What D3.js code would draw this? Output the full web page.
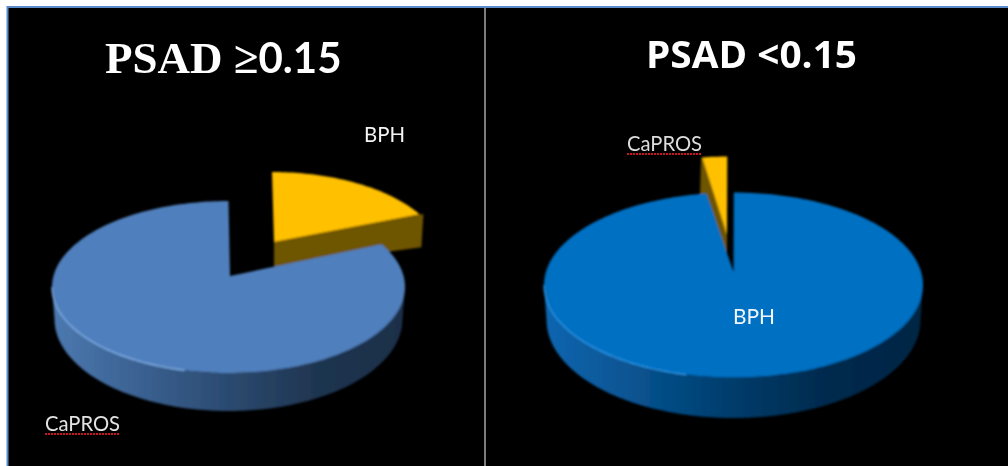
<!DOCTYPE html>
<html>
<head>
<meta charset="utf-8">
<script src="https://cdn.jsdelivr.net/npm/d3@7"></script>
<style>
html,body{margin:0;padding:0;background:#fff;overflow:hidden}
svg{display:block}
</style>
</head>
<body>
<svg id="c" width="1008" height="466"></svg>
<script>
// Data
const categoriesLeft = ["BPH", "CaPROS"];
const valuesLeft = [16.7, 83.3];
const categoriesRight = ["CaPROS", "BPH"];
const valuesRight = [2.3, 97.7];

const W = 1008, H = 466;
const svg = d3.select("#c");
const defs = svg.append("defs");
const blur = defs.append("filter").attr("id", "soft").attr("x", "-5%").attr("y", "-5%").attr("width", "110%").attr("height", "110%");
blur.append("feGaussianBlur").attr("stdDeviation", 0.85);
const textBlur = defs.append("filter").attr("id", "softText").attr("x", "-5%").attr("y", "-20%").attr("width", "110%").attr("height", "140%");
textBlur.append("feGaussianBlur").attr("stdDeviation", 0.7);

function sideGradient(id, x1, x2, stops) {
  const g = defs.append("linearGradient").attr("id", id).attr("gradientUnits", "userSpaceOnUse")
    .attr("x1", x1).attr("x2", x2).attr("y1", 0).attr("y2", 0);
  stops.forEach((c, i) => g.append("stop").attr("offset", i / (stops.length - 1)).attr("stop-color", c));
}

// panel
svg.append("rect").attr("x", 7.5).attr("y", 7).attr("width", W).attr("height", H)
  .attr("fill", "#000").attr("stroke", "#5b8bc9").attr("stroke-width", 2);
svg.append("line").attr("x1", 485).attr("x2", 485).attr("y1", 8).attr("y2", H)
  .attr("stroke", "#7c7c7c").attr("stroke-width", 2);

const line = d3.line().x(d => d[0]).y(d => d[1]);
const TAU = Math.PI * 2;

function ellipsePoints(e, a0, a1) {
  const n = Math.max(2, Math.ceil(Math.abs(a1 - a0) / 0.02));
  return d3.range(n + 1).map(i => {
    const a = a0 + (a1 - a0) * i / n;
    return [e.cx + e.rx * Math.sin(a), e.cy - e.ry * Math.cos(a)];
  });
}

function drawPie(cfg) {
  const pie = d3.pie().sort(null).startAngle(cfg.start).endAngle(cfg.start + TAU);
  const arcs = pie(cfg.values);
  const g = svg.append("g").attr("filter", "url(#soft)");
  const main = arcs[cfg.mainIndex], wedge = arcs[1 - cfg.mainIndex];

  // exploded wedge: radial side face, then top face
  const w = cfg.wedge;
  const edge = ellipsePoints(w, wedge[cfg.wedgeSide], wedge[cfg.wedgeSide])[0];
  const apex = [w.cx + w.apexDx, w.cy + w.apexDy];
  g.append("path").attr("fill", "#6e5400").attr("d", line([
    apex, edge, [edge[0] + w.lipDx, edge[1]], [edge[0] + w.edgeDx, edge[1] + w.depthOuter],
    [apex[0], apex[1] + w.depthInner]
  ]) + "Z");
  g.append("path").attr("fill", "#ffc000").attr("d",
    line([apex, ...ellipsePoints(w, wedge.startAngle, wedge.endAngle)]) + "Z");

  // main body: front wall then top face
  const t = cfg.top, b = cfg.bottom;
  g.append("path").attr("fill", `url(#${cfg.id})`).attr("d",
    line([...ellipsePoints(t, Math.PI / 2, Math.PI * 1.5), ...ellipsePoints(b, Math.PI * 1.5, Math.PI / 2)]) + "Z");
  g.append("path").attr("fill", cfg.topColor).attr("d",
    line([[t.cx + cfg.apexDx, t.cy + cfg.apexDy], ...ellipsePoints(t, main.startAngle, main.endAngle)]) + "Z");
  g.append("path").attr("fill", "none").attr("stroke", cfg.rim).attr("stroke-width", 1.2)
    .attr("d", line(ellipsePoints(t, Math.PI * 1.08, Math.PI * 1.5)));
}

const bodyLeft = { cx: 228.5, cy: 287, rx: 176.5, ry: 86 };
sideGradient("sideL", 52, 405, ["#4c79b0", "#3a6191", "#2b4a70", "#1f3550", "#1c2f49"]);
drawPie({
  id: "sideL", values: valuesLeft, start: 0, mainIndex: 1, wedgeSide: "endAngle",
  top: bodyLeft, bottom: { cx: 228.5, cy: 319, rx: 174, ry: 92 },
  apexDx: 1.5, apexDy: -11, topColor: "#4f7fbc", rim: "#86b5ee",
  wedge: { cx: 272, cy: 256, rx: 170, ry: 84, apexDx: 2, apexDy: -14, depthInner: 25, depthOuter: 33, edgeDx: 2, lipDx: 4 }
});

const bodyRight = { cx: 733.5, cy: 285, rx: 189.5, ry: 92.5 };
sideGradient("sideR", 544, 923, ["#0a66b0", "#07528f", "#053c6b", "#032a4d", "#022544"]);
drawPie({
  id: "sideR", values: valuesRight, start: -0.143, mainIndex: 1, wedgeSide: "startAngle",
  top: bodyRight, bottom: { cx: 733.5, cy: 320, rx: 187, ry: 98 },
  apexDx: 0, apexDy: -13, topColor: "#0070c2", rim: "#2f9bec",
  wedge: { cx: 727, cy: 249, rx: 175, ry: 92.5, apexDx: 0, apexDy: -14, depthInner: 21, depthOuter: 36, edgeDx: -2, lipDx: -1 }
});

// Text
const text = svg.append("g").attr("filter", "url(#softText)").attr("fill", "#fff");
const tLeft = text.append("text").attr("x", 105).attr("y", 73).attr("font-weight", 700)
  .attr("font-family", "'Liberation Serif',serif").attr("font-size", 45);
tLeft.append("tspan").text("PSAD ≥");
tLeft.append("tspan").attr("font-family", "Lato,sans-serif").attr("font-size", 42).text("0.15");
text.append("text").attr("x", 646).attr("y", 68).attr("font-weight", 700)
  .attr("font-family", "'Open Sans',sans-serif").attr("font-size", 38).attr("textLength", 211)
  .attr("lengthAdjust", "spacingAndGlyphs").text("PSAD <0.15");

function label(name, x, y, w, underline, fill) {
  text.append("text").attr("x", x).attr("y", y).attr("font-family", "Lato,sans-serif").attr("font-size", 21)
    .attr("textLength", w).attr("lengthAdjust", "spacingAndGlyphs").attr("fill", fill).text(name);
  if (underline) {
    svg.append("line").attr("x1", x).attr("x2", x + w).attr("y1", y + 3).attr("y2", y + 3)
      .attr("stroke", "#c8141e").attr("stroke-width", 1.8).attr("stroke-dasharray", "2 1");
  }
}
label(categoriesLeft[0], 364, 142, 41, false, "#f4f4f4");
label(categoriesLeft[1], 45, 431, 75, true, "#e2e2e2");
label(categoriesRight[0], 627, 151, 75, true, "#dcdcdc");
label(categoriesRight[1], 733, 324, 42, false, "#f0f6fc");
</script>
</body>
</html>
